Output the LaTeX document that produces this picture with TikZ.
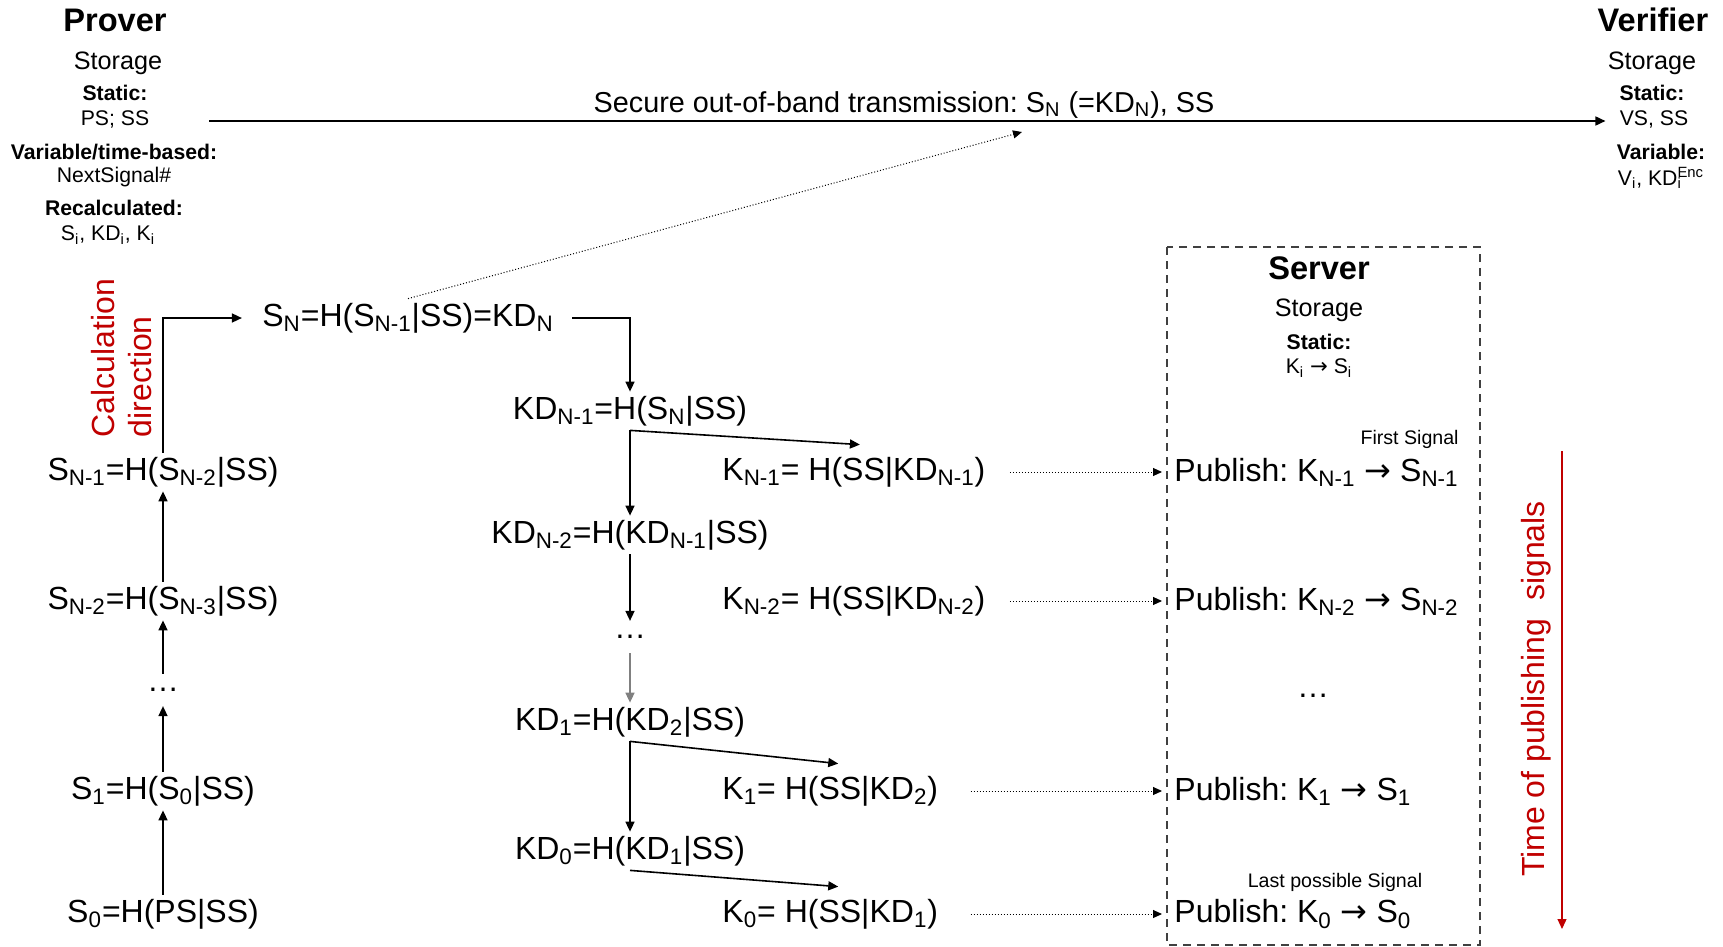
\documentclass[tikz,border=0pt]{standalone}
\usepackage{fontspec}
\setmainfont{Liberation Sans}
\newfontfamily\arrowfont{DejaVu Sans}
\usepackage{xcolor}
\usetikzlibrary{arrows.meta}
\definecolor{darkred}{RGB}{192,0,0}
\newcommand{\maps}{{\arrowfont →}}
\frenchspacing

\begin{document}
\begin{tikzpicture}[x = 0.5pt, y = -0.5pt,
		eq/.style = {font = \fontsize{16}{20}\selectfont, inner sep = 2pt},
		keq/.style = {eq, anchor = west, inner ysep = 6pt},
		head/.style = {font = \bfseries\fontsize{16.3}{20}\selectfont, inner sep = 2pt},
		store/.style = {font = \fontsize{12.6}{15}\selectfont, inner sep = 2pt},
		cat/.style = {font = \bfseries\fontsize{10.6}{13}\selectfont, inner sep = 2pt},
		val/.style = {font = \fontsize{10.6}{13}\selectfont, inner sep = 2pt},
		note/.style = {font = \fontsize{9.8}{12}\selectfont, inner sep = 1pt},
		gap/.style = {eq, inner ysep = 7pt},
		hint/.style = {font = \fontsize{16}{18.5}\selectfont, text = darkred, rotate = 90},
		arr/.style = {line width = 0.8pt, -{Triangle[length = 5pt, width = 4.5pt]}},
		link/.style = {line width = 0.5pt, densely dotted, -{Triangle[length = 4.5pt, width = 4pt]}}
	]
	\useasboundingbox (0,0) rectangle (1723,947);

	% prover and verifier storage
	\begin{scope}
		\node [head] (prover) at (115,20) {Prover};
		\node [store] (pstore) at (118,63) {Storage};
		\node [cat] (pstatic) at (115,93) {Static:};
		\node [val] (ps) at (115,119) {PS; SS};
		\node [cat] (pvar) at (114,152) {Variable/time-based:};
		\node [val] (pnext) at (114,177) {NextSignal\#};
		\node [cat] (precalc) at (114,208) {Recalculated:};
		\node [val] (psik) at (108,235) {S\textsubscript{i}, KD\textsubscript{i}, K\textsubscript{i}};

		\node [head] (verifier) at (1653,20) {Verifier};
		\node [store] (vstore) at (1652,63) {Storage};
		\node [cat] (vstatic) at (1652,93) {Static:};
		\node [val] (vs) at (1654,119) {VS, SS};
		\node [cat] (vvar) at (1661,152) {Variable:};
		\node [val] (vvi) at (1661,178) {V\textsubscript{i}, KD\rlap{\textsubscript{i}}\textsuperscript{Enc}};
	\end{scope}

	\coordinate (oobfrom) at (209,121);
	\coordinate (oobto) at (1022,132);
	\draw [arr, shorten >= 5pt] (oobfrom) -- (oobfrom -| vs.west);
	\node [font = \fontsize{14.4}{17}\selectfont] (oob) at (904,105) {Secure out-of-band transmission: S\textsubscript{N} (=KD\textsubscript{N}), SS};

	% signal chain
	\node [eq] (sn1) at (163,472) {S\textsubscript{N-1}=H(S\textsubscript{N-2}|SS)};
	\node [eq] (sn2) at (163,601) {S\textsubscript{N-2}=H(S\textsubscript{N-3}|SS)};
	\node [gap] (ldots) at (163,690) {…};
	\node [eq] (s1) at (163,791) {S\textsubscript{1}=H(S\textsubscript{0}|SS)};
	\node [eq] (s0) at (163,914) {S\textsubscript{0}=H(PS|SS)};
	\node [eq] (sn) at (408,318) {S\textsubscript{N}=H(S\textsubscript{N-1}|SS)=KD\textsubscript{N}};
	\node [hint, align = left] (calc) at (122,358) {Calculation\\direction};

	\draw [arr] (s0) -- (s1);
	\draw [arr] (s1) -- (ldots);
	\draw [arr] (ldots) -- (sn2);
	\draw [arr] (sn2) -- (sn1);
	\draw [arr, shorten >= 8pt] (sn1.north) |- (sn.west);
	\draw [link] (sn.north) -- (oobto);

	% key derivation chain
	\node [eq] (kd1) at (630,411) {KD\textsubscript{N-1}=H(S\textsubscript{N}|SS)};
	\node [keq] (kn1) at (718,472) {K\textsubscript{N-1}= H(SS|KD\textsubscript{N-1})};
	\node [eq] (kd2) at (630,535) {KD\textsubscript{N-2}=H(KD\textsubscript{N-1}|SS)};
	\node [keq] (kn2) at (718,601) {K\textsubscript{N-2}= H(SS|KD\textsubscript{N-2})};
	\node [gap] (mdots) at (630,637) {…};
	\node [eq] (kdb) at (630,722) {KD\textsubscript{1}=H(KD\textsubscript{2}|SS)};
	\node [keq] (kb) at (718,791) {K\textsubscript{1}= H(SS|KD\textsubscript{2})};
	\node [eq] (kda) at (630,851) {KD\textsubscript{0}=H(KD\textsubscript{1}|SS)};
	\node [keq] (ka) at (718,914) {K\textsubscript{0}= H(SS|KD\textsubscript{1})};

	\draw [arr, shorten <= 7pt] (sn.east) -| (kd1.north);
	\draw [arr] (kd1.south) -- (kd2.north);
	\draw [arr] (kd1.south) -- ([xshift = 3pt]kn1.north);
	\draw [arr] (kd2.south) -- (mdots);
	\draw [arr, gray] (mdots) -- (kdb);
	\draw [arr] (kdb.south) -- (kda.north);
	\draw [arr] (kdb.south) -- ([xshift = 4pt]kb.north);
	\draw [arr] (kda.south) -- ([xshift = 4pt]ka.north);

	% server
	\draw [darkgray, line width = 0.6pt, dash pattern = on 4pt off 3pt] (1167,247) rectangle (1480,945);
	\node [head] (server) at (1319,268) {Server};
	\node [store] (sstore) at (1319,310) {Storage};
	\node [cat] (sstatic) at (1319,342) {Static:};
	\node [val] (sks) at (1319,368) {K\textsubscript{i} \maps{} S\textsubscript{i}};

	\node [eq, anchor = west] (pn1) at (1170,472) {Publish: K\textsubscript{N-1} \maps{} S\textsubscript{N-1}};
	\node [eq, anchor = west] (pn2) at (1170,601) {Publish: K\textsubscript{N-2} \maps{} S\textsubscript{N-2}};
	\node [gap] (rdots) at (1313,696) {…};
	\node [eq, anchor = west] (pb) at (1170,791) {Publish: K\textsubscript{1} \maps{} S\textsubscript{1}};
	\node [eq, anchor = west] (pa) at (1170,914) {Publish: K\textsubscript{0} \maps{} S\textsubscript{0}};
	\node [note, anchor = east] (first) at (1461,439) {First Signal};
	\node [note] (last) at (1335,882) {Last possible Signal};

	\draw [link, shorten <= 10pt, shorten >= 4pt] (kn1.east) -- (pn1.west);
	\draw [link, shorten <= 10pt, shorten >= 4pt] (kn2.east) -- (pn2.west);
	\draw [link, shorten <= 14pt, shorten >= 4pt] (kb.east) -- (pb.west);
	\draw [link, shorten <= 14pt, shorten >= 4pt] (ka.east) -- (pa.west);

	% publishing order
	\node [hint] (time) at (1536,689) {Time of publishing\ \ signals};
	\coordinate (tfrom) at (1562,451);
	\coordinate (tto) at (1562,929);
	\draw [arr, darkred, line width = 0.6pt] (tfrom) -- (tto);
\end{tikzpicture}
\end{document}
